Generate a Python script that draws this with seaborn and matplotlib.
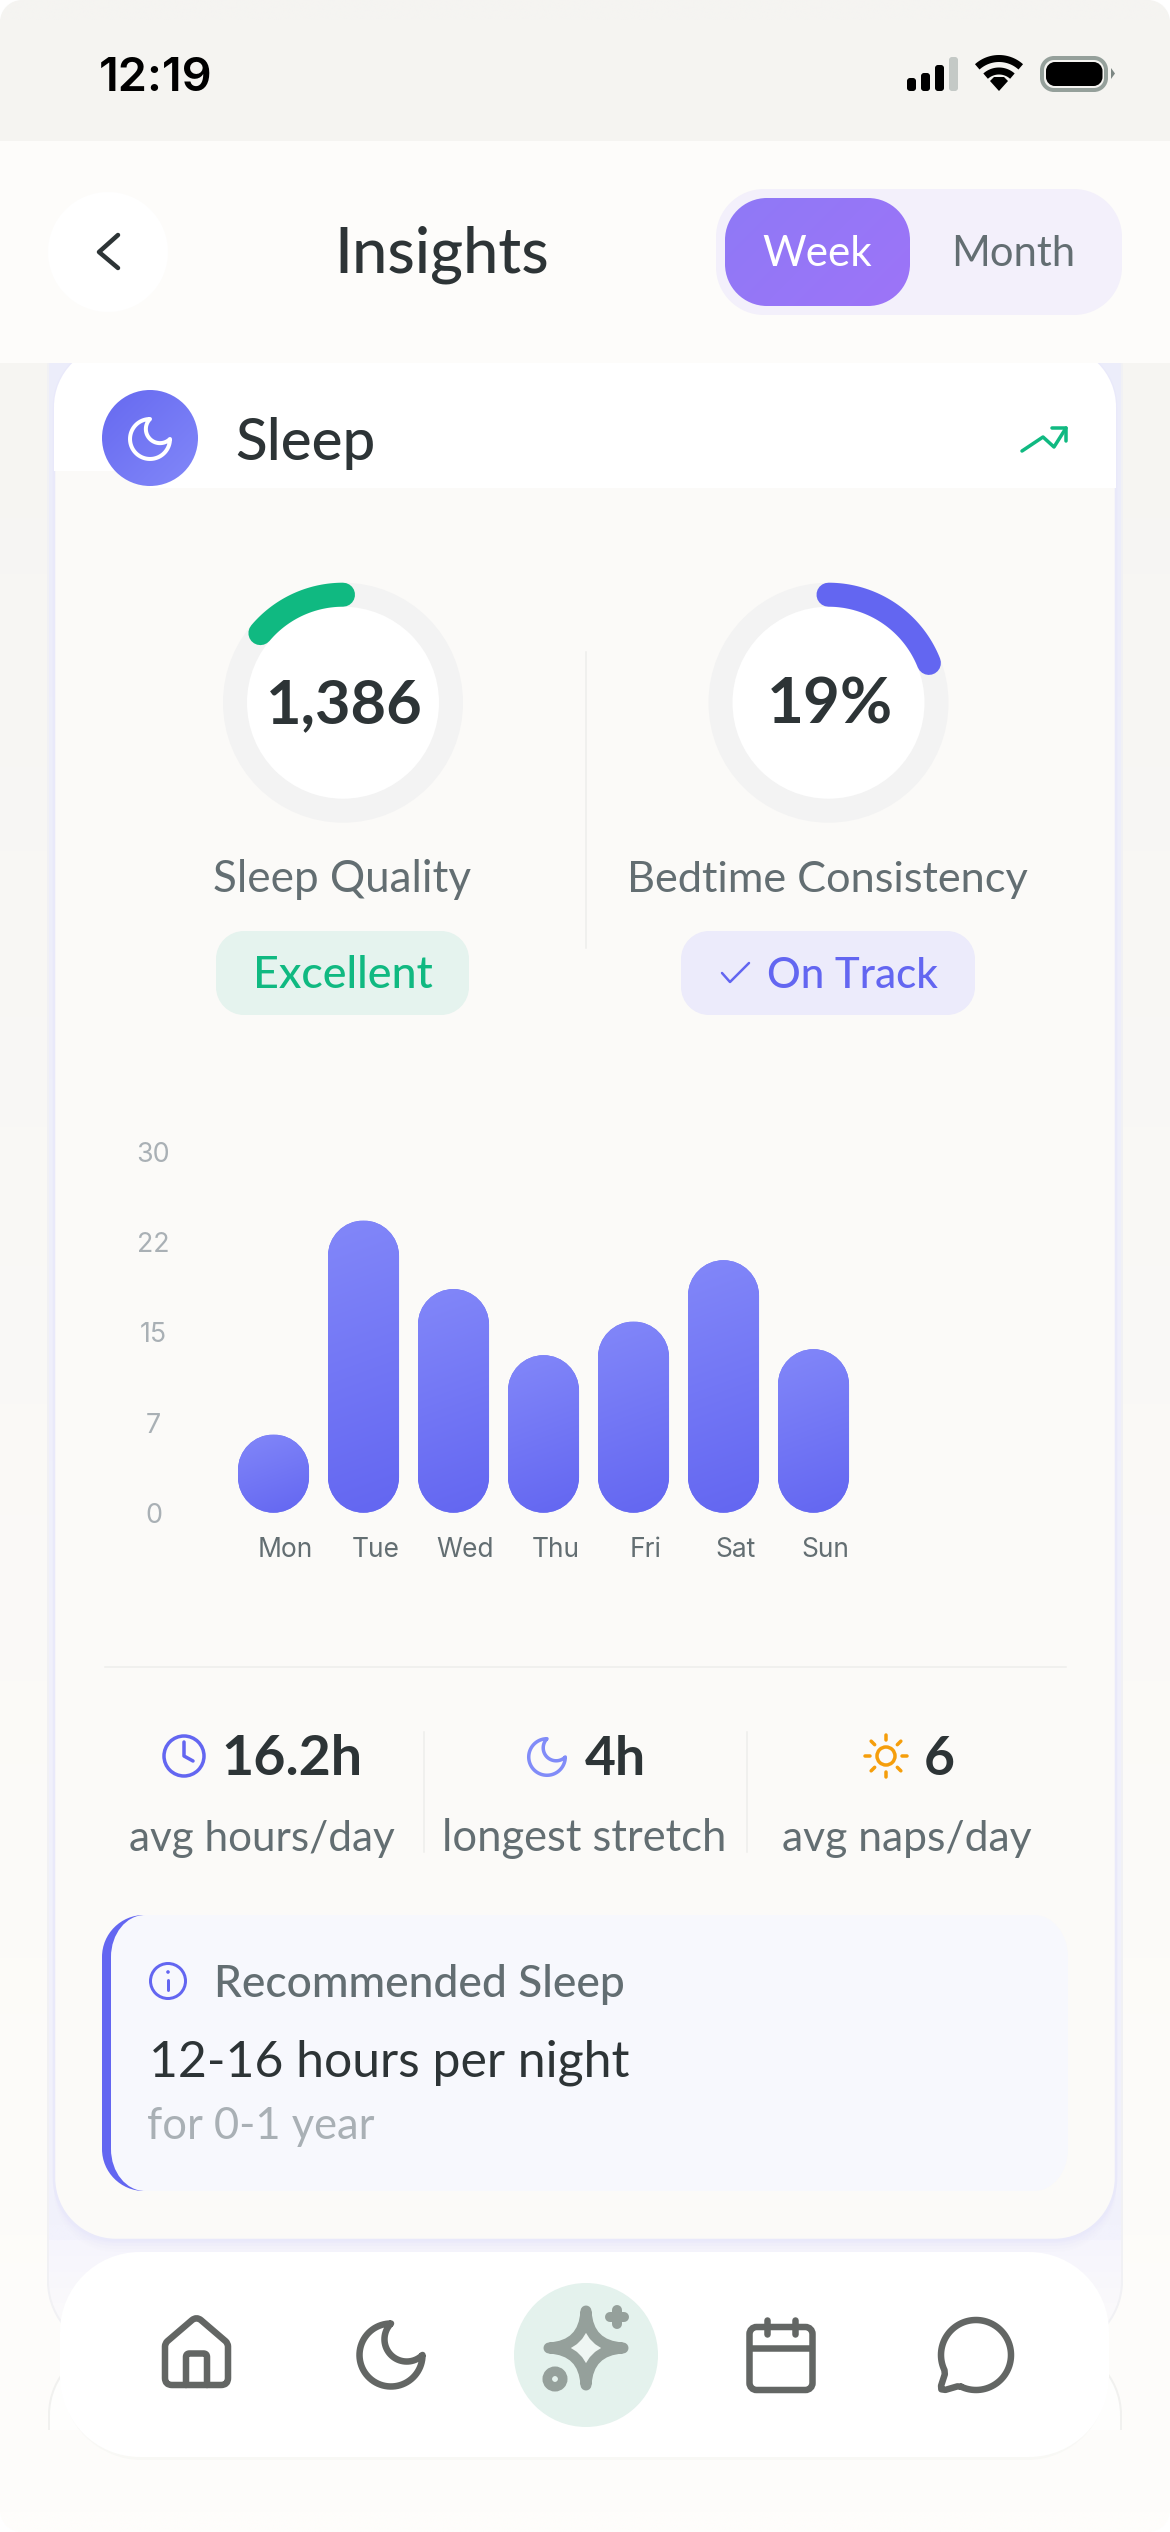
import numpy as np
import pandas as pd
import matplotlib
matplotlib.use("Agg")
import matplotlib.pyplot as plt
import seaborn as sns
from matplotlib.path import Path
from matplotlib.patches import PathPatch, Circle
from matplotlib.colors import to_rgb
from matplotlib.transforms import ScaledTranslation

# ---------- data ----------
days = ["Mon", "Tue", "Wed", "Thu", "Fri", "Sat", "Sun"]
sleep_hours = [6.5, 24.3, 18.6, 13.1, 15.9, 21.0, 13.6]
y_tick_values = [0, 7.5, 15, 22.5, 30]
y_tick_labels = ["0", "7", "15", "22", "30"]
quality_fraction = 0.1386
consistency_fraction = 0.19
ring_values = ["1,386", "19%"]
ring_titles = ["Sleep Quality", "Bedtime Consistency"]
ring_badges = ["Excellent", "On Track"]
stat_values = ["16.2h", "4h", "6"]
stat_labels = ["avg hours/day", "longest stretch", "avg naps/day"]
rec_lines = ["Recommended Sleep", "12-16 hours per night", "for 0-1 year"]

INK = "#2d3436"
GREY = "#636e72"
PALE = "#a9b0b5"
INDIGO = "#6366f1"
GREEN = "#10b981"
UI = "Lato"
SYS = "Inter"

sns.set_theme(style="white")
plt.rcParams["font.family"] = [UI, "DejaVu Sans"]

fig = plt.figure(figsize=(11.7, 25.32), dpi=100, facecolor="white")
bg = fig.add_axes([0, 0, 1, 1], zorder=0)
bg.set_xlim(0, 1170)
bg.set_ylim(2532, 0)
bg.axis("off")
renderer = fig.canvas.get_renderer()

_z = [1]
def nz():
    _z[0] += 1
    return _z[0]

K = 0.5523
def rpath(x0, y0, x1, y1, rx, ry=None):
    ry = rx if ry is None else ry
    kx, ky = rx * K, ry * K
    v = [(x0 + rx, y0), (x1 - rx, y0),
         (x1 - rx + kx, y0), (x1, y0 + ry - ky), (x1, y0 + ry),
         (x1, y1 - ry),
         (x1, y1 - ry + ky), (x1 - rx + kx, y1), (x1 - rx, y1),
         (x0 + rx, y1),
         (x0 + rx - kx, y1), (x0, y1 - ry + ky), (x0, y1 - ry),
         (x0, y0 + ry),
         (x0, y0 + ry - ky), (x0 + rx - kx, y0), (x0 + rx, y0),
         (x0 + rx, y0)]
    c = [Path.MOVETO, Path.LINETO, Path.CURVE4, Path.CURVE4, Path.CURVE4, Path.LINETO,
         Path.CURVE4, Path.CURVE4, Path.CURVE4, Path.LINETO,
         Path.CURVE4, Path.CURVE4, Path.CURVE4, Path.LINETO,
         Path.CURVE4, Path.CURVE4, Path.CURVE4, Path.CLOSEPOLY]
    return Path(v, c)

def rrect(x0, y0, x1, y1, r, fc="none", ec="none", lw=0, alpha=None, ry=None, clip=None):
    p = PathPatch(rpath(x0, y0, x1, y1, r, ry), fc=fc, ec=ec, lw=lw * 0.72, alpha=alpha, zorder=nz())
    bg.add_patch(p)
    if clip is not None:
        p.set_clip_path(clip, bg.transData)
    return p

def grad(x0, y0, x1, y1, c0, c1, tilt=0.0, clip=None, ax=None, z=None):
    ax = ax or bg
    h, w = 64, 64
    u, v = np.meshgrid(np.linspace(0, 1, w), np.linspace(0, 1, h))
    t = (v * abs(y1 - y0) + tilt * u * abs(x1 - x0)) / (abs(y1 - y0) + tilt * abs(x1 - x0))
    a, b = np.array(to_rgb(c0)), np.array(to_rgb(c1))
    img = a[None, None, :] * (1 - t[..., None]) + b[None, None, :] * t[..., None]
    im = ax.imshow(img, extent=(x0, x1, y1, y0), origin="upper", aspect="auto",
                   interpolation="bilinear", zorder=nz() if z is None else z)
    if clip is not None:
        im.set_clip_path(clip, ax.transData)
    return im

def T(s, x, y, px, color=INK, weight="normal", family=UI, ha="center", width=None):
    t = bg.text(x, y, s, fontsize=px * 0.72, color=color, fontweight=weight,
                family=[family, "DejaVu Sans"], ha=ha, va="baseline", zorder=nz())
    if width is not None:
        w = t.get_window_extent(renderer).width
        t.set_fontsize(t.get_fontsize() * width / w)
    return t

def L(xs, ys, color, lw, cap="round", join="round"):
    bg.plot(xs, ys, color=color, lw=lw * 0.72, solid_capstyle=cap, solid_joinstyle=join, zorder=nz())

def moon(cx, cy, s, color, lw, fc="none"):
    a = np.radians(np.linspace(0, 270, 60))
    b = np.radians(np.linspace(225, 45, 40))
    xs = np.r_[12 + 9 * np.cos(a), 16.5 + 6.364 * np.cos(b)]
    ys = np.r_[12 + 9 * np.sin(a), 7.5 + 6.364 * np.sin(b)]
    xs = cx + (xs - 12) * s
    ys = cy + (ys - 12) * s
    bg.add_patch(plt.Polygon(np.c_[xs, ys], closed=True, fc=fc, ec=color, lw=lw * 0.72,
                             joinstyle="round", zorder=nz()))

def circ(cx, cy, r, fc="none", ec="none", lw=0):
    bg.add_patch(Circle((cx, cy), r, fc=fc, ec=ec, lw=lw * 0.72, zorder=nz()))

def icon_path(verts, codes, cx, cy, s, color, lw, fc="none"):
    v = [(cx + (u - 12) * s, cy + (w - 12) * s) for u, w in verts]
    bg.add_patch(PathPatch(Path(v, codes), fc=fc, ec=color, lw=lw * 0.72, joinstyle="round",
                           capstyle="round", zorder=nz()))

# ---------- page ----------
screen = rpath(0, 0, 1170, 2532, 22)
grad(0, 0, 1170, 2532, "#f5f4f1", "#fefdfb", clip=screen)
bg.set_xlim(0, 1170)
bg.set_ylim(2532, 0)

# cards stacked behind the main one (clipped by the page bottom fade)
stack = Path([(0, 0), (1170, 0), (1170, 2430), (0, 2430), (0, 0)],
             [Path.MOVETO, Path.LINETO, Path.LINETO, Path.LINETO, Path.CLOSEPOLY])
rrect(49, 2345, 1121, 2500, 70, fc="#fefefd", ec="#f1f1ef", lw=2, clip=stack)
back = rpath(48, 300, 1122, 2351, 70)
grad(48, 300, 1122, 2240, "#ecedfa", "#f2f2fc", clip=back)
grad(48, 2240, 1122, 2351, "#f6f5fd", "#fdfcfa", clip=back)
rrect(48, 300, 1122, 2351, 70, ec="#f1f1f4", lw=2)
# main card
card = rpath(54, 345, 1116, 2240, 62)
for i, a in enumerate([0.08, 0.14, 0.24, 0.40]):
    rrect(54, 345, 1116, 2252 - 3 * i, 62, fc="#e9e8fa", alpha=a)
rrect(54, 345, 1116, 2240, 62, fc="#fbfaf8", ec="#e9e9fa", lw=2.5)
rrect(40, 340, 150, 471, 0, fc="white", clip=card)
rrect(150, 340, 1130, 488, 0, fc="white", clip=card)

# ---------- status bar ----------
bg.add_patch(plt.Rectangle((0, 141), 1170, 222, fc="#fdfcfa", ec="none", zorder=nz()))
T("12:19", 156, 91, 46, "black", "semibold", SYS, width=114)
for x, top, c in zip([907, 921, 935, 949], [78, 73, 65, 57], ["black"] * 3 + ["#c4c9c6"]):
    rrect(x, top, x + 9, 91, 3, fc=c)
aa = np.radians(np.linspace(48, 132, 30))
for r, lw in [(32.5, 7), (20, 7)]:
    L(999 + r * np.cos(aa), 91 - r * np.sin(aa), "black", lw, cap="butt")
bg.add_patch(plt.Polygon([(999, 91), (990, 81), (994, 77), (1004, 77), (1008, 81)], fc="black", ec="none", zorder=nz()))
rrect(1042, 58, 1106, 90, 12, ec="#95a09b", lw=4)
rrect(1046, 62, 1102.5, 86, 9, fc="black")
bg.add_patch(plt.Polygon([(1111, 68), (1115, 73.5), (1111, 79)], fc="#7d8784", ec="none", zorder=nz()))

# ---------- header ----------
circ(108, 252, 60, fc="white")
L([118, 99, 118], [235, 252, 268], INK, 4.5)
T("Insights", 442, 272, 58, INK, "medium", width=214)
rrect(716, 189, 1122, 315, 48, fc="#f3f0fb")
pill = rpath(725, 198, 910, 306, 42)
grad(725, 198, 910, 306, "#8f79f6", "#9d74f8", tilt=1.0, clip=pill)
bg.set_xlim(0, 1170)
bg.set_ylim(2532, 0)
T("Week", 817.5, 266, 42, "white", width=110)
T("Month", 1013.5, 266, 42, GREY, width=124)

# ---------- card heading ----------
icon = Path.circle((150, 438), 48)
grad(100, 389, 200, 487, "#6669f0", "#8288f9", tilt=1.0, clip=icon)
moon(150, 439, 2.22, "white", 4)
T("Sleep", 305, 460, 52, INK, "medium", width=140)
L([1022, 1043, 1054, 1066], [451, 437, 447, 428], GREEN, 3.5)
L([1052, 1066, 1066], [428, 428, 441], GREEN, 3.5)

# ---------- rings ----------
centers = [(343, 702.7), (828.5, 702.7)]
for (cx, cy) in centers:
    circ(cx, cy, 108, fc="white", ec="#f3f3f3", lw=24)
ang = np.radians(90 + np.linspace(0, 360 * quality_fraction, 50))
L(centers[0][0] + 108 * np.cos(ang), centers[0][1] - 108 * np.sin(ang), GREEN, 24)
ang = np.radians(90 - np.linspace(0, 360 * consistency_fraction, 50))
L(centers[1][0] + 108 * np.cos(ang), centers[1][1] - 108 * np.sin(ang), INDIGO, 24)
T(ring_values[0], 344, 723, 60, INK, "bold", width=157)
T(ring_values[1], 830, 723, 60, INK, "bold", width=126)
T(ring_titles[0], 342, 892, 40, GREY, width=258)
T(ring_titles[1], 827, 892, 40, GREY, width=402)
L([586, 586], [652, 948], "#f0f0ee", 2)
rrect(216, 931, 469, 1015, 28, fc="#e5f3ee")
rrect(681, 931, 975, 1015, 28, fc="#ecebfb")
T(ring_badges[0], 343, 988, 42, GREEN, "medium", width=180)
T(ring_badges[1], 852, 988, 42, INDIGO, "medium", width=171)
L([722, 730, 749], [973, 982, 963], INDIGO, 2.5)

# ---------- stats ----------
L([105, 1066], [1667, 1667], "#f0f0ee", 2)
L([424, 424], [1732, 1852], "#f0f0ee", 2)
L([747, 747], [1732, 1852], "#f0f0ee", 2)
circ(184, 1756, 20, ec=INDIGO, lw=3.5)
L([184, 184, 193], [1742, 1756, 1761], INDIGO, 3.5)
moon(547, 1757, 2.03, "#818cf8", 3.5)
circ(886, 1756, 9, ec="#f59e0b", lw=3.5)
for d in range(0, 360, 45):
    c, s = np.cos(np.radians(d)), np.sin(np.radians(d))
    L([886 + 16 * c, 886 + 21 * c], [1756 + 16 * s, 1756 + 21 * s], "#f59e0b", 3.5)
T(stat_values[0], 291.5, 1775, 52, INK, "bold", width=141)
T(stat_values[1], 615.5, 1775, 52, INK, "bold", width=61)
T(stat_values[2], 939, 1775, 52, INK, "bold", width=31)
T(stat_labels[0], 261.5, 1851, 40, GREY, width=266)
T(stat_labels[1], 584, 1851, 40, GREY, width=285)
T(stat_labels[2], 906.5, 1851, 40, GREY, width=250)

# ---------- recommendation ----------
rrect(102, 1915, 300, 2191, 42, fc=INDIGO)
rrect(111, 1915, 1068, 2191, 34, fc="#f7f8fd", ry=42)
circ(168, 1981, 17.5, ec=INDIGO, lw=3)
L([168, 168], [1980, 1990], INDIGO, 3)
circ(168, 1972, 1.8, fc=INDIGO)
T(rec_lines[0], 214, 1997, 40, GREY, "medium", ha="left", width=412)
T(rec_lines[1], 149, 2077, 46, INK, ha="left", width=480)
T(rec_lines[2], 147, 2139, 38, PALE, ha="left", width=228)

# ---------- bottom nav ----------
rrect(62, 2256, 1107, 2460, 80, fc="#f8f8f5")
rrect(60, 2252, 1109, 2457, 80, fc="white")
NAV = "#636664"
s_n, lw_n = 3.5, 6.5
M, C, P, Z = Path.MOVETO, Path.CURVE3, Path.LINETO, Path.CLOSEPOLY
house = [(3, 10), (3, 9.1), (3.7, 8.47), (10.7, 2.47), (12, 1.4), (13.29, 2.47), (20.29, 8.47), (21, 9.1), (21, 10),
         (21, 19), (21, 21), (19, 21), (5, 21), (3, 21), (3, 19), (3, 10)]
house_c = [M, C, C, P, C, C, P, C, C, P, C, C, P, C, C, Z]
icon_path(house, house_c, 196.5, 2353.5, s_n, NAV, lw_n)
door = [(15, 21), (15, 13), (15, 12), (14, 12), (10, 12), (9, 12), (9, 13), (9, 21)]
icon_path(door, [M, P, C, C, P, C, C, P], 196.5, 2353.5, s_n, NAV, lw_n)
moon(391, 2355, s_n, NAV, lw_n)
circ(586, 2355, 72, fc="#e4f2ed")
sx, sy, a_, c_ = 586, 2348, 37, 2
star_v = [(sx, sy - a_), (sx + c_, sy - c_), (sx + a_, sy), (sx + c_, sy + c_), (sx, sy + a_),
          (sx - c_, sy + c_), (sx - a_, sy), (sx - c_, sy - c_), (sx, sy - a_), (sx, sy - a_)]
star_c = [M] + [C] * 8 + [Z]
bg.add_patch(PathPatch(Path(star_v, star_c), fc="#eff6f3", ec="#95a09b", lw=11 * 0.72, joinstyle="round", zorder=nz()))
L([617, 617], [2310, 2324], "#95a09b", 10)
L([610, 624], [2317, 2317], "#95a09b", 10)
circ(555, 2379, 7.75, ec="#95a09b", lw=9.5)
rrect(781 - 9 * s_n, 2355 - 8 * s_n, 781 + 9 * s_n, 2355 + 10 * s_n, 2 * s_n, ec=NAV, lw=lw_n)
L([781 - 9 * s_n, 781 + 9 * s_n], [2355 - 2 * s_n] * 2, NAV, lw_n, cap="butt")
L([767, 767], [2355 - 10 * s_n, 2355 - 6 * s_n], NAV, lw_n)
L([795, 795], [2355 - 10 * s_n, 2355 - 6 * s_n], NAV, lw_n)
a = np.radians(np.linspace(115, -205.7, 100))
xs = np.r_[12 + 10 * np.cos(a), 3.086, 2.021, 2.1, 3.257, 6.67, 7.769]
ys = np.r_[12 + 10 * np.sin(a), 17.509, 20.799, 21.8, 21.967, 20.969, 21.061]
L(976 + (xs - 12) * s_n, 2355 + (ys - 12) * s_n, NAV, lw_n)

bg.set_xlim(0, 1170)
bg.set_ylim(2532, 0)

# ---------- bar chart ----------
ax = fig.add_axes([183.5 / 1170, (2532 - 1512.7) / 2532, 675 / 1170, 360.7 / 2532], zorder=5)
frame = pd.DataFrame({"day": days, "hours": sleep_hours})
sns.barplot(data=frame, x="day", y="hours", color="#7276f3", saturation=1, width=0.79, ax=ax)
ax.set_xlim(-1, 6.5)
ax.set_ylim(0, 30)
ax.patch.set_alpha(0)
sns.despine(ax=ax, left=True, bottom=True, top=True, right=True)
ax.grid(False)
ax.set_xlabel("")
ax.set_ylabel("")
ax.set_yticks(y_tick_values)
ax.set_yticklabels(y_tick_labels, fontsize=19.3, color=PALE, family=[SYS, "DejaVu Sans"], ha="center")
ax.tick_params(axis="y", length=0, pad=21.6)
ax.tick_params(axis="x", length=0, pad=17.5)
for lab in ax.get_xticklabels():
    lab.set_fontsize(19)
    lab.set_color(GREY)
    lab.set_family([SYS, "DejaVu Sans"])
    lab.set_transform(lab.get_transform() + ScaledTranslation(12 / 100, 0, fig.dpi_scale_trans))

x_unit, y_unit = 90.0, 360.7 / 30
for bar in list(ax.patches):
    x0, w, h = bar.get_x(), bar.get_width(), bar.get_height()
    rx = w / 2
    ry = rx * x_unit / y_unit
    shape = rpath(x0, 0, x0 + w, h, rx, min(ry, h / 2))
    bar.set_clip_path(shape, ax.transData)
    bar.set_edgecolor("none")
    grad(x0, h, x0 + w, 0, "#8287f9", "#6366f1", clip=shape, ax=ax, z=3, tilt=2.7)
ax.set_xlim(-1, 6.5)
ax.set_ylim(0, 30)

fig.savefig("out.png", dpi=100, facecolor="white")
